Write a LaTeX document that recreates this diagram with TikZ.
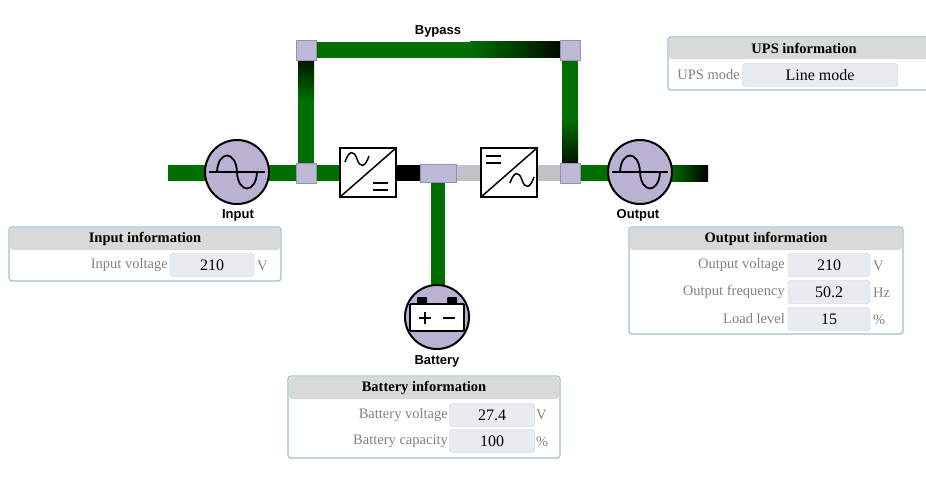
\documentclass[tikz,border=0pt]{standalone}
\usepackage{fontspec}
\setmainfont{Liberation Serif}
\newfontfamily\lab{Liberation Sans}
\begin{document}
\begin{tikzpicture}[x=1pt,y=-1pt,
 sq/.style={fill={rgb,255:red,190;green,185;blue,215},draw={rgb,255:red,150;green,145;blue,175},line width=0.5pt},
 circ/.style={circle,minimum size=64pt,fill={rgb,255:red,185;green,178;blue,210},draw=black,line width=2pt,inner sep=0pt},
 conv/.style={draw=black,line width=1.8pt,fill=white},
 lbl/.style={font=\lab\bfseries\fontsize{13}{14}\selectfont},
 box/.style={draw={rgb,255:red,160;green,190;blue,210},line width=1.2pt,rounded corners=3pt,fill=white},
 hd/.style={font=\bfseries\fontsize{14.5}{16}\selectfont},
 key/.style={font=\fontsize{14.5}{16}\selectfont,text={rgb,255:red,130;green,130;blue,130},anchor=east,inner sep=1pt},
 fld/.style={draw={rgb,255:red,190;green,205;blue,215},fill={rgb,255:red,232;green,236;blue,240},rounded corners=3pt,minimum height=23pt,font=\fontsize{16}{18}\selectfont,inner sep=0pt},
 unit/.style={font=\fontsize{14.5}{16}\selectfont,text={rgb,255:red,130;green,130;blue,130},anchor=west,inner sep=1pt}]
\definecolor{g}{RGB}{0,110,0}
\definecolor{gy}{RGB}{195,192,200}
\useasboundingbox (0,0) rectangle (926,500);
% lines
\fill[g] (168,165) rectangle (396,181);
\fill[black] (396,165) rectangle (420,181);
\fill[gy] (456,165) rectangle (560,181);
\fill[g] (570,165) rectangle (670,181);
\shade[left color=g,right color=black] (670,165) rectangle (708,181);
\fill[g] (306,42) rectangle (470,58);
\shade[left color=g,right color=black] (470,42) rectangle (570,58);
\fill[g] (298,100) rectangle (314,173);
\shade[top color=black,bottom color=g] (298,50) rectangle (314,100);
\fill[g] (562,50) rectangle (578,120);
\shade[top color=g,bottom color=black] (562,120) rectangle (578,173);
\fill[g] (431,183) rectangle (445,295);
% squares
\node[sq,minimum size=20pt,inner sep=0pt] (s1) at (306,50) {};
\node[sq,minimum size=20pt,inner sep=0pt] (s2) at (570,50) {};
\node[sq,minimum size=20pt,inner sep=0pt] (s3) at (306,173) {};
\node[sq,minimum size=20pt,inner sep=0pt] (s4) at (570,173) {};
\node[sq,minimum width=36pt,minimum height=18pt,inner sep=0pt] (j) at (438,173) {};
% converters
\draw[conv] (340,148) rectangle (396,197);
\draw[line width=1.5pt] (340,197) -- (396,148);
\draw[line width=1.5pt] (345,162) .. controls (349,150) and (354,150) .. (357,159) .. controls (360,168) and (365,168) .. (369,156);
\draw[line width=2.2pt] (373,183) -- (388,183) (373,190) -- (388,190);
\draw[conv] (481,148) rectangle (537,197);
\draw[line width=1.5pt] (481,197) -- (537,148);
\draw[line width=2.2pt] (486,156) -- (501,156) (486,163) -- (501,163);
\draw[line width=1.5pt] (510,183) .. controls (514,171) and (519,171) .. (522,180) .. controls (525,189) and (530,189) .. (534,177);
% circles
\node[circ] (in) at (237,172) {};
\node[circ] (out) at (640,172) {};
\node[circ] (bat) at (437,317) {};
\foreach \c in {237,640}{
 \draw[line width=1.5pt] (\c-28,172) -- (\c+28,172);
 \draw[line width=1.8pt] (\c-20,172) .. controls (\c-19,150) and (\c-1,150) .. (\c,172) .. controls (\c+1,194) and (\c+19,194) .. (\c+20,172);}
\fill[rounded corners=1pt] (417,297) rectangle (427,306);
\fill[rounded corners=1pt] (447,297) rectangle (457,306);
\draw[line width=1.8pt,fill=white,rounded corners=1pt] (410,304) rectangle (464,331);
\draw[line width=2pt] (419,318) -- (431,318) (425,312) -- (425,324) (443,318) -- (455,318);
% labels
\node[lbl] at (438,31) {Bypass};
\node[lbl] at (238,215) {Input};
\node[lbl] at (638,215) {Output};
\node[lbl] at (437,361) {Battery};
% UPS info
\draw[box] (668,37) rectangle (930,90);
\fill[gray!30,rounded corners=3pt] (669,38) rectangle (929,59);
\node[hd] at (804,48) {UPS information};
\node[key] at (741,75) {UPS mode};
\node[fld,minimum width=155pt] at (820,75) {Line mode};
% Input info
\draw[box] (9,227) rectangle (281,281);
\fill[gray!30,rounded corners=3pt] (10,228) rectangle (280,250);
\node[hd] at (145,239) {Input information};
\node[key] at (169,265) {Input voltage};
\node[fld,minimum width=84pt] at (212,265) {210};
\node[unit] at (256,266) {V};
% Output info
\draw[box] (629,227) rectangle (903,334);
\fill[gray!30,rounded corners=3pt] (630,228) rectangle (902,250);
\node[hd] at (766,239) {Output information};
\node[key] at (786,265) {Output voltage};
\node[fld,minimum width=82pt] at (829,265) {210};
\node[unit] at (872,266) {V};
\node[key] at (786,292) {Output frequency};
\node[fld,minimum width=82pt] at (829,292) {50.2};
\node[unit] at (872,293) {Hz};
\node[key] at (786,319) {Load level};
\node[fld,minimum width=82pt] at (829,319) {15};
\node[unit] at (872,320) {\%};
% Battery info
\draw[box] (288,376) rectangle (560,458);
\fill[gray!30,rounded corners=3pt] (289,377) rectangle (559,399);
\node[hd] at (424,388) {Battery information};
\node[key] at (449,415) {Battery voltage};
\node[fld,minimum width=85pt] at (492,415) {27.4};
\node[unit] at (535,415) {V};
\node[key] at (449,441) {Battery capacity};
\node[fld,minimum width=85pt] at (492,441) {100};
\node[unit] at (535,442) {\%};
\end{tikzpicture}
\end{document}
